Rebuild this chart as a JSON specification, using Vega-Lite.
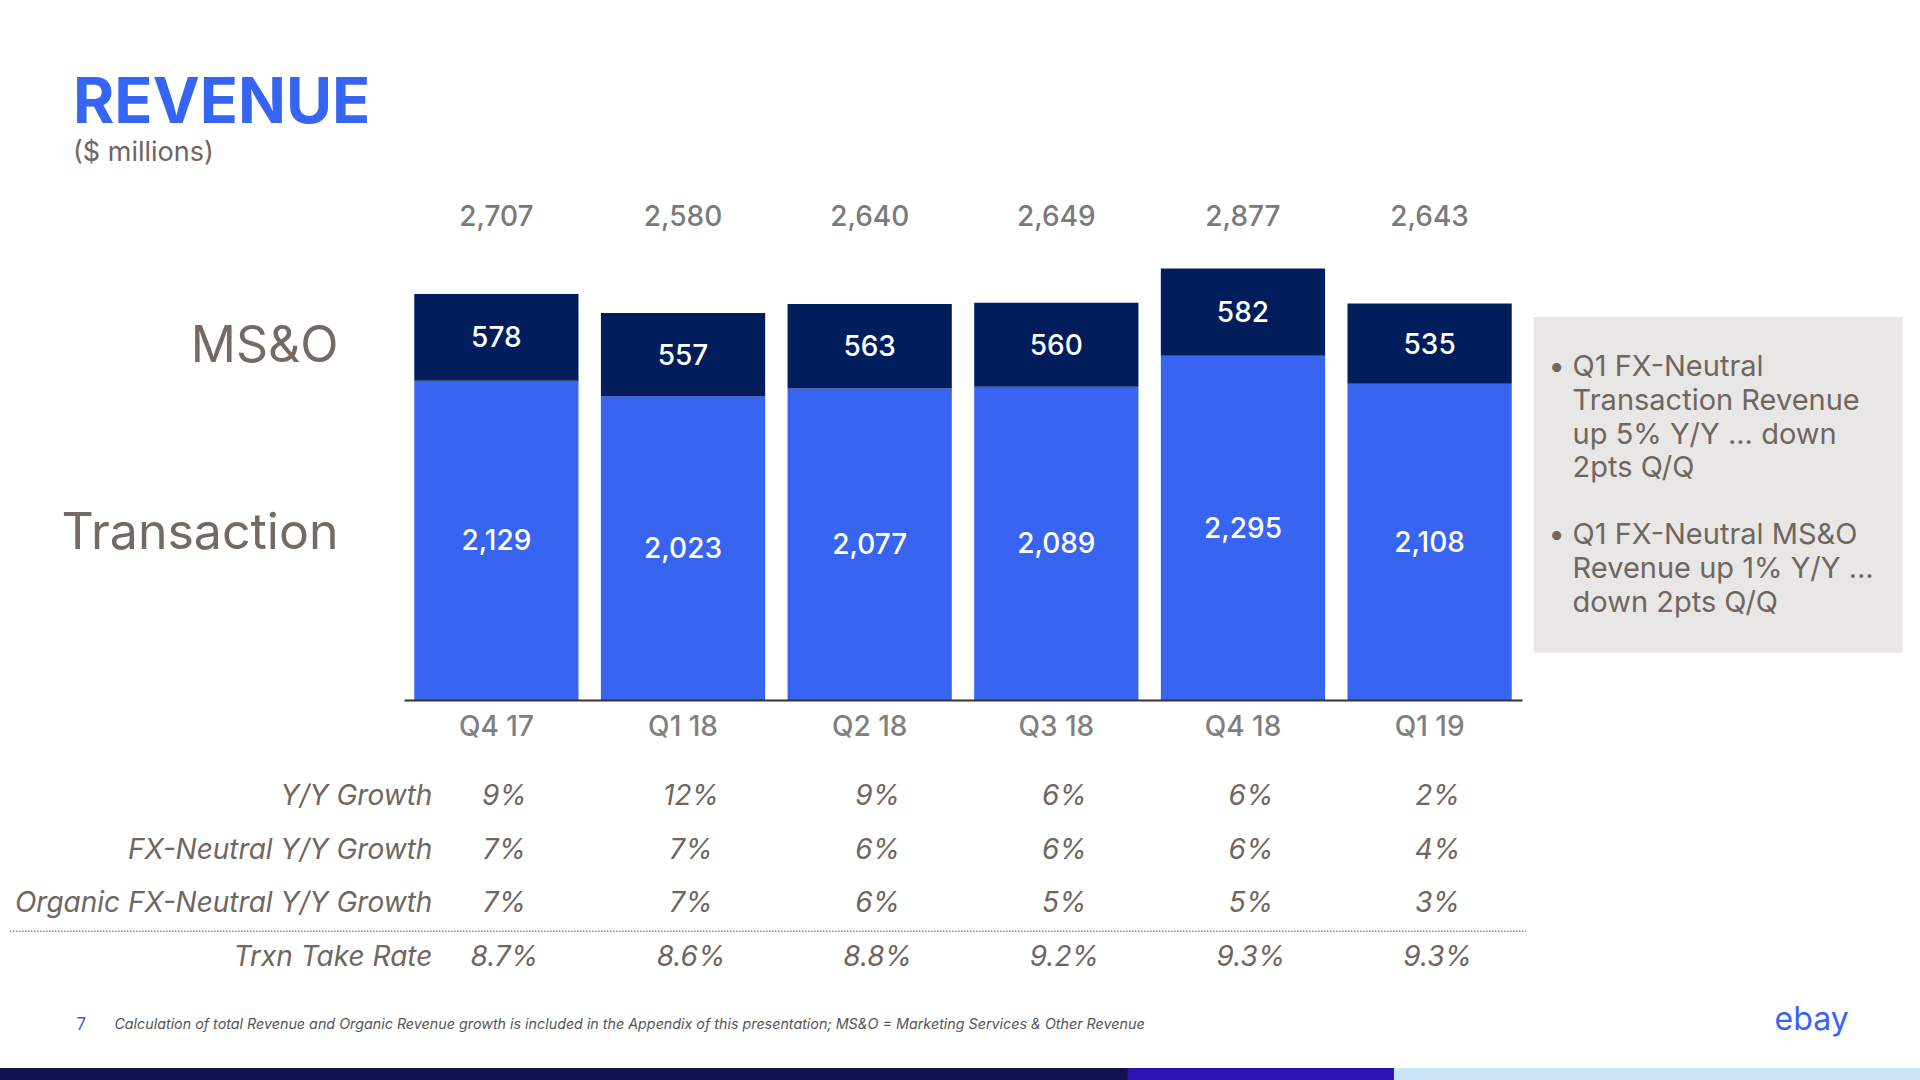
{
  "$schema": "https://vega.github.io/schema/vega-lite/v6.json",
  "width": 1118,
  "height": 510,
  "autosize": {"type": "none"},
  "padding": {"left": 404, "top": 190, "right": 398, "bottom": 380},
  "background": "white",
  "config": {"view": {"stroke": null}, "font": "Inter"},
  "title": {
    "text": "REVENUE",
    "subtitle": "($ millions)",
    "anchor": "start",
    "frame": "group",
    "dx": -331,
    "offset": 24,
    "font": "Inter",
    "fontSize": 63,
    "fontWeight": 700,
    "color": "#3665f3",
    "subtitleFont": "Inter",
    "subtitleFontSize": 27,
    "subtitleColor": "#6f6660",
    "subtitlePadding": 4
  },
  "datasets": {
    "revenue": [
      {"quarter": "Q4 17", "segment": "Transaction", "value": 2129},
      {"quarter": "Q4 17", "segment": "MS&O", "value": 578},
      {"quarter": "Q1 18", "segment": "Transaction", "value": 2023},
      {"quarter": "Q1 18", "segment": "MS&O", "value": 557},
      {"quarter": "Q2 18", "segment": "Transaction", "value": 2077},
      {"quarter": "Q2 18", "segment": "MS&O", "value": 563},
      {"quarter": "Q3 18", "segment": "Transaction", "value": 2089},
      {"quarter": "Q3 18", "segment": "MS&O", "value": 560},
      {"quarter": "Q4 18", "segment": "Transaction", "value": 2295},
      {"quarter": "Q4 18", "segment": "MS&O", "value": 582},
      {"quarter": "Q1 19", "segment": "Transaction", "value": 2108},
      {"quarter": "Q1 19", "segment": "MS&O", "value": 535}
    ],
    "growth": [
      {"metric": "Y/Y Growth", "quarter": "Q4 17", "pct": 0.09},
      {"metric": "Y/Y Growth", "quarter": "Q1 18", "pct": 0.12},
      {"metric": "Y/Y Growth", "quarter": "Q2 18", "pct": 0.09},
      {"metric": "Y/Y Growth", "quarter": "Q3 18", "pct": 0.06},
      {"metric": "Y/Y Growth", "quarter": "Q4 18", "pct": 0.06},
      {"metric": "Y/Y Growth", "quarter": "Q1 19", "pct": 0.02},
      {"metric": "FX-Neutral Y/Y Growth", "quarter": "Q4 17", "pct": 0.07},
      {"metric": "FX-Neutral Y/Y Growth", "quarter": "Q1 18", "pct": 0.07},
      {"metric": "FX-Neutral Y/Y Growth", "quarter": "Q2 18", "pct": 0.06},
      {"metric": "FX-Neutral Y/Y Growth", "quarter": "Q3 18", "pct": 0.06},
      {"metric": "FX-Neutral Y/Y Growth", "quarter": "Q4 18", "pct": 0.06},
      {"metric": "FX-Neutral Y/Y Growth", "quarter": "Q1 19", "pct": 0.04},
      {"metric": "Organic FX-Neutral Y/Y Growth", "quarter": "Q4 17", "pct": 0.07},
      {"metric": "Organic FX-Neutral Y/Y Growth", "quarter": "Q1 18", "pct": 0.07},
      {"metric": "Organic FX-Neutral Y/Y Growth", "quarter": "Q2 18", "pct": 0.06},
      {"metric": "Organic FX-Neutral Y/Y Growth", "quarter": "Q3 18", "pct": 0.05},
      {"metric": "Organic FX-Neutral Y/Y Growth", "quarter": "Q4 18", "pct": 0.05},
      {"metric": "Organic FX-Neutral Y/Y Growth", "quarter": "Q1 19", "pct": 0.03},
      {"metric": "Trxn Take Rate", "quarter": "Q4 17", "pct": 0.087},
      {"metric": "Trxn Take Rate", "quarter": "Q1 18", "pct": 0.086},
      {"metric": "Trxn Take Rate", "quarter": "Q2 18", "pct": 0.088},
      {"metric": "Trxn Take Rate", "quarter": "Q3 18", "pct": 0.092},
      {"metric": "Trxn Take Rate", "quarter": "Q4 18", "pct": 0.093},
      {"metric": "Trxn Take Rate", "quarter": "Q1 19", "pct": 0.093}
    ],
    "notes": [
      {"id": 1, "note": "Q1 FX-Neutral\nTransaction Revenue\nup 5% Y/Y ... down\n2pts Q/Q"},
      {"id": 2, "note": "Q1 FX-Neutral MS&O\nRevenue up 1% Y/Y ...\ndown 2pts Q/Q"}
    ]
  },
  "layer": [
    {
      "layer": [
        {
          "data": {"values": [{}]},
          "mark": {"type": "rect", "color": "#e8e7e6", "xOffset": 22, "x2Offset": 391},
          "encoding": {
            "x": {"datum": "Q1 19", "type": "nominal", "bandPosition": 1},
            "x2": {"datum": "Q1 19", "bandPosition": 1},
            "y": {"datum": 2553},
            "y2": {"datum": 315}
          }
        },
        {
          "data": {"name": "revenue"},
          "mark": {"type": "bar"},
          "encoding": {
            "x": {
              "field": "quarter", "type": "nominal",
              "scale": {"type": "band", "domain": ["Q4 17", "Q1 18", "Q2 18", "Q3 18", "Q4 18", "Q1 19"], "paddingInner": 0.12, "paddingOuter": 0.055},
              "axis": {"title": null, "orient": "bottom", "bandPosition": 0.5, "labelAngle": 0, "labelAlign": "center", "labelBaseline": "top", "labelFont": "Inter", "labelFontSize": 28, "labelFontWeight": 500, "labelColor": "#808080", "labelPadding": 13, "ticks": false, "tickSize": 0, "domainColor": "#333333", "domainWidth": 2, "grid": false}
            },
            "y": {
              "field": "value", "type": "quantitative", "stack": "zero",
              "scale": {"domain": [0, 3400], "nice": false, "zero": true},
              "axis": {"title": null, "values": [1113, 2357], "labelExpr": "datum.value > 2000 ? 'MS&O' : 'Transaction'", "labelFont": "Inter", "labelFontSize": 50, "labelColor": "#736a63", "labelPadding": 66, "labelLimit": 600, "labelAlign": "right", "labelBaseline": "middle", "labelFlush": false, "labelOverlap": false, "ticks": false, "tickSize": 0, "domain": false, "grid": false}
            },
            "color": {"field": "segment", "type": "nominal", "scale": {"domain": ["Transaction", "MS&O"], "range": ["#3764f0", "#021d5c"]}, "legend": null},
            "order": {"field": "segment", "sort": "descending"}
          }
        },
        {
          "data": {"name": "revenue"},
          "transform": [
            {"stack": "value", "groupby": ["quarter"], "sort": [{"field": "segment", "order": "descending"}], "as": ["y0", "y1"]},
            {"fold": ["y0", "y1"], "as": ["edge", "pos"]},
            {"aggregate": [{"op": "mean", "field": "pos", "as": "mid"}], "groupby": ["quarter", "segment", "value"]}
          ],
          "mark": {"type": "text", "color": "white", "font": "Inter", "fontSize": 28, "fontWeight": 500, "baseline": "middle", "dy": 2},
          "encoding": {
            "x": {"field": "quarter", "type": "nominal"},
            "y": {"field": "mid", "type": "quantitative"},
            "text": {"field": "value", "format": ","}
          }
        },
        {
          "data": {"name": "revenue"},
          "transform": [{"aggregate": [{"op": "sum", "field": "value", "as": "total"}], "groupby": ["quarter"]}],
          "mark": {"type": "text", "color": "#7a7a7a", "font": "Inter", "fontSize": 28, "fontWeight": 500, "baseline": "alphabetic"},
          "encoding": {
            "x": {"field": "quarter", "type": "nominal"},
            "y": {"datum": 3160},
            "text": {"field": "total", "format": ","}
          }
        },
        {
          "data": {"name": "notes"},
          "transform": [{"filter": "datum.id === 1"}],
          "encoding": {"x": {"datum": "Q1 19", "type": "nominal"}, "y": {"datum": 2160}},
          "layer": [
            {"mark": {"type": "text", "align": "left", "baseline": "alphabetic", "dx": 119, "font": "Inter", "fontSize": 29, "color": "#6f6660"}, "encoding": {"text": {"value": "•"}}},
            {"mark": {"type": "text", "align": "left", "baseline": "alphabetic", "dx": 143, "font": "Inter", "fontSize": 29, "lineBreak": "\n", "lineHeight": 33.8, "color": "#6f6660"}, "encoding": {"text": {"field": "note"}}}
          ]
        },
        {
          "data": {"name": "notes"},
          "transform": [{"filter": "datum.id === 2"}],
          "encoding": {"x": {"datum": "Q1 19", "type": "nominal"}, "y": {"datum": 1040}},
          "layer": [
            {"mark": {"type": "text", "align": "left", "baseline": "alphabetic", "dx": 119, "font": "Inter", "fontSize": 29, "color": "#6f6660"}, "encoding": {"text": {"value": "•"}}},
            {"mark": {"type": "text", "align": "left", "baseline": "alphabetic", "dx": 143, "font": "Inter", "fontSize": 29, "lineBreak": "\n", "lineHeight": 33.8, "color": "#6f6660"}, "encoding": {"text": {"field": "note"}}}
          ]
        },
        {
          "data": {"values": [{}]},
          "mark": {"type": "rule", "color": "#8a8a8a", "strokeWidth": 1.5, "strokeDash": [1.5, 1.5], "xOffset": -404.3, "x2Offset": 1111.7},
          "encoding": {
            "x": {"datum": "Q4 17", "type": "nominal", "bandPosition": 0},
            "x2": {"datum": "Q4 17", "bandPosition": 0},
            "y": {"datum": -1542}
          }
        },
        {
          "data": {"values": [{}]},
          "mark": {"type": "text", "align": "left", "baseline": "alphabetic", "dx": -382, "font": "Inter", "fontSize": 14.3, "fontStyle": "italic", "color": "#555555"},
          "encoding": {
            "x": {"datum": "Q4 17", "type": "nominal"},
            "y": {"datum": -2192},
            "text": {"value": "Calculation of total Revenue and Organic Revenue growth is included in the Appendix of this presentation; MS&O = Marketing Services & Other Revenue"}
          }
        },
        {
          "data": {"values": [{}]},
          "mark": {"type": "text", "align": "left", "baseline": "alphabetic", "dx": -420, "font": "Inter", "fontSize": 17, "color": "#3665f3"},
          "encoding": {
            "x": {"datum": "Q4 17", "type": "nominal"},
            "y": {"datum": -2200},
            "text": {"value": "7"}
          }
        },
        {
          "data": {"values": [{}]},
          "mark": {"type": "text", "align": "left", "baseline": "alphabetic", "dx": 345, "font": "Inter", "fontSize": 32, "fontWeight": 400, "color": "#3665f3"},
          "encoding": {
            "x": {"datum": "Q1 19", "type": "nominal"},
            "y": {"datum": -2200},
            "text": {"value": "ebay"}
          }
        },
        {
          "data": {"values": [{}]},
          "mark": {"type": "rect", "color": "#14124e", "xOffset": -414.3, "x2Offset": 713.7},
          "encoding": {
            "x": {"datum": "Q4 17", "type": "nominal", "bandPosition": 0},
            "x2": {"datum": "Q4 17", "bandPosition": 0},
            "y": {"datum": -2453}, "y2": {"datum": -2534}
          }
        },
        {
          "data": {"values": [{}]},
          "mark": {"type": "rect", "color": "#2c12b5", "xOffset": 713.7, "x2Offset": 979.7},
          "encoding": {
            "x": {"datum": "Q4 17", "type": "nominal", "bandPosition": 0},
            "x2": {"datum": "Q4 17", "bandPosition": 0},
            "y": {"datum": -2453}, "y2": {"datum": -2534}
          }
        },
        {
          "data": {"values": [{}]},
          "mark": {"type": "rect", "color": "#c9e4f7", "xOffset": 979.7, "x2Offset": 1505.7},
          "encoding": {
            "x": {"datum": "Q4 17", "type": "nominal", "bandPosition": 0},
            "x2": {"datum": "Q4 17", "bandPosition": 0},
            "y": {"datum": -2453}, "y2": {"datum": -2534}
          }
        }
      ]
    },
    {
      "data": {"name": "growth"},
      "encoding": {
        "x": {"field": "quarter", "type": "nominal"},
        "y": {"field": "metric", "type": "ordinal", "axis": null, "scale": {"type": "point", "domain": ["Y/Y Growth", "FX-Neutral Y/Y Growth", "Organic FX-Neutral Y/Y Growth", "Trxn Take Rate"], "range": [607, 768], "padding": 0}}
      },
      "layer": [
        {
          "mark": {"type": "text", "font": "Inter", "fontSize": 28, "fontStyle": "italic", "color": "#6f6660", "dx": 8, "baseline": "middle"},
          "encoding": {"text": {"field": "pct", "format": ".1~%"}}
        },
        {
          "transform": [{"filter": "datum.quarter === 'Q4 17'"}],
          "mark": {"type": "text", "font": "Inter", "fontSize": 28, "fontStyle": "italic", "color": "#6f6660", "dx": -64, "align": "right", "baseline": "middle"},
          "encoding": {"text": {"field": "metric"}}
        }
      ]
    }
  ],
  "resolve": {"scale": {"y": "independent"}}
}
